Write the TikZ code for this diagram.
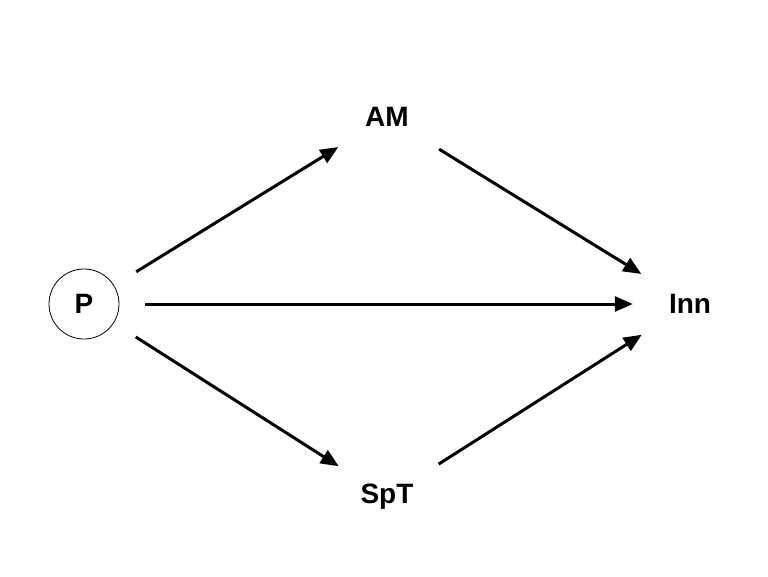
\documentclass[tikz,border=0pt]{standalone}
\usepackage{fontspec}
\setmainfont{Liberation Sans}
\usetikzlibrary{arrows.meta}
\begin{document}
\begin{tikzpicture}[x=1pt,y=-1pt,
  lbl/.style={circle,minimum size=114pt,inner sep=0pt,font=\fontsize{28}{30}\selectfont\bfseries},
  pnode/.style={circle,draw,line width=0.8pt,minimum size=70pt,inner sep=0pt,font=\fontsize{28}{30}\selectfont\bfseries},
  arr/.style={line width=3pt,-{Triangle[length=18pt,width=15pt]}}]
\useasboundingbox (0,0) rectangle (768,576);
\fill[white] (0,0) rectangle (768,576);
\node[pnode] (P) at (84,304) {P};
\node[lbl] (AM) at (387,117) {AM};
\node[lbl] (SpT) at (387,497) {SpT};
\node[lbl] (Inn) at (690,304) {Inn};
\draw[arr,shorten <=26pt] (P) -- (AM);
\draw[arr,shorten <=26pt] (P) -- (SpT);
\draw[arr,shorten <=26pt] (P) -- (Inn);
\draw[arr,shorten <=4pt] (AM) -- (Inn);
\draw[arr,shorten <=4pt] (SpT) -- (Inn);
\end{tikzpicture}
\end{document}
